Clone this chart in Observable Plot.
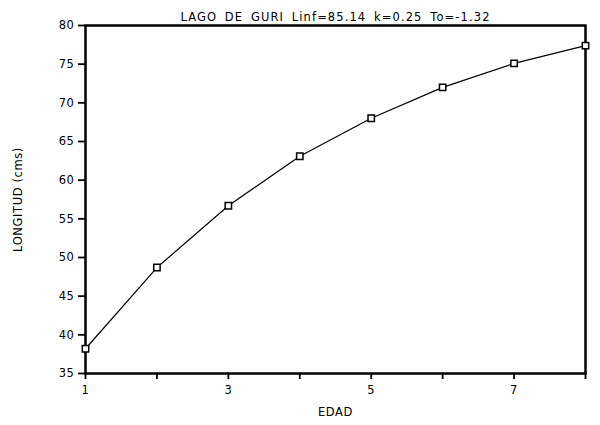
<!DOCTYPE html>
<html>
<head>
<meta charset="utf-8">
<script src="https://cdn.jsdelivr.net/npm/d3@7"></script>
<script src="https://cdn.jsdelivr.net/npm/@observablehq/plot@0.6"></script>
<style>
  body { margin: 0; background: #fff; }
  #chart svg text { letter-spacing: 0.6px; }
  #chart svg .title text { letter-spacing: 1.1px; word-spacing: 3px; }
</style>
</head>
<body>
<div id="chart"></div>
<script>
const title = "LAGO DE GURI Linf=85.14 k=0.25 To=-1.32";
const xLabel = "EDAD";
const yLabel = "LONGITUD (cms)";
const edad = [1, 2, 3, 4, 5, 6, 7, 8];
const longitud = [38.2, 48.7, 56.7, 63.1, 68.0, 72.0, 75.1, 77.4];
const xTicks = [1, 2, 3, 4, 5, 6, 7, 8];
const xTickLabels = ["1", "", "3", "", "5", "", "7", ""];
const yTicks = [35, 40, 45, 50, 55, 60, 65, 70, 75, 80];

const data = edad.map((e, i) => ({edad: e, longitud: longitud[i]}));

const chart = Plot.plot({
  width: 600,
  height: 425,
  marginLeft: 85,
  marginRight: 15,
  marginTop: 25,
  marginBottom: 52,
  style: {fontFamily: "'DejaVu Sans', Arial, sans-serif", fontSize: "11.5px", color: "#000", background: "#fff"},
  x: {domain: [1, 8]},
  y: {domain: [35, 80]},
  marks: [
    Plot.axisX({
      ticks: xTicks,
      tickFormat: (d) => xTickLabels[xTicks.indexOf(d)],
      tickSize: 6,
      tickPadding: 6,
      strokeWidth: 1.8,
      label: xLabel,
      labelAnchor: "center",
      labelOffset: 42,
      labelArrow: "none"
    }),
    Plot.axisY({
      ticks: yTicks,
      tickSize: 7,
      tickPadding: 4,
      strokeWidth: 1.8,
      label: yLabel,
      labelAnchor: "center",
      labelOffset: 72,
      labelArrow: "none"
    }),
    Plot.frame({stroke: "#000", strokeWidth: 2.5}),
    Plot.line(data, {x: "edad", y: "longitud", stroke: "#000", strokeWidth: 1.2}),
    Plot.dot(data, {x: "edad", y: "longitud", symbol: "square", r: 3.6, fill: "#fff", stroke: "#000", strokeWidth: 1.5}),
    Plot.text([title], {frameAnchor: "top", dy: -13, text: d => d, fontSize: 11.5, fill: "#000", className: "title"})
  ]
});
document.getElementById("chart").appendChild(chart);
</script>
</body>
</html>
